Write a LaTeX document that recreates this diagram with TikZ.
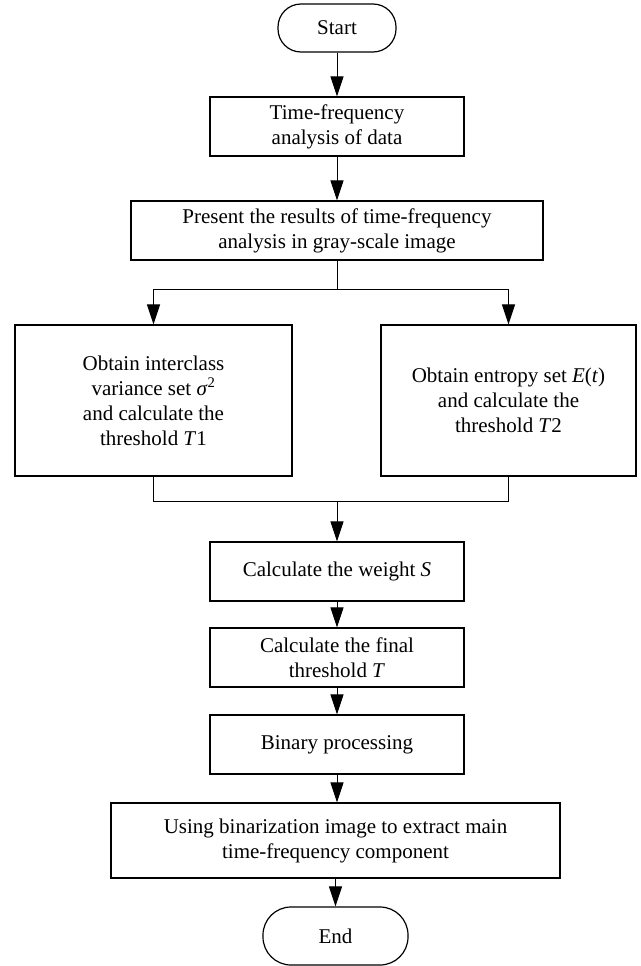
\documentclass[tikz,border=0pt]{standalone}
\usepackage{fontspec}
\setmainfont{Liberation Serif}
\usetikzlibrary{arrows.meta}
\begin{document}
\begin{tikzpicture}[x=1bp,y=-1bp,
  every node/.style={font=\fontsize{21bp}{25bp}\selectfont, align=center, inner sep=0pt},
  procbox/.style={draw=black, line width=1.2bp, rectangle},
  termbox/.style={draw=black, line width=1.2bp, rectangle, rounded corners=23bp},
  conn/.style={draw=black, line width=1bp},
  arr/.style={conn, -{Triangle[length=20bp,width=13bp]}}
]
\useasboundingbox (0,0) rectangle (641,966);
\node[termbox, minimum width=118bp, minimum height=48bp] (start) at (337,28) {Start};
\node[procbox, minimum width=254bp, minimum height=59bp] (b1) at (337,126.5) {Time-frequency\\analysis of data};
\node[procbox, minimum width=412bp, minimum height=59bp] (b2) at (337,230.5) {Present the results of time-frequency\\analysis in gray-scale image};
\node[procbox, minimum width=277bp, minimum height=151bp] (left) at (153.5,400.5) {Obtain interclass\\variance set \textit{σ}\textsuperscript{2}\\and calculate the\\threshold \textit{T}1};
\node[procbox, minimum width=255bp, minimum height=151bp] (right) at (508.5,400.5) {Obtain entropy set \textit{E}(\textit{t})\\and calculate the\\threshold \textit{T}2};
\node[procbox, minimum width=254bp, minimum height=59bp] (s) at (337,571.5) {Calculate the weight \textit{S}};
\node[procbox, minimum width=254bp, minimum height=59bp] (t) at (337,657.5) {Calculate the final\\threshold \textit{T}};
\node[procbox, minimum width=254bp, minimum height=59bp] (bin) at (337,744.5) {Binary processing};
\node[procbox, minimum width=449bp, minimum height=75bp] (use) at (335.5,840.5) {Using binarization image to extract main\\time-frequency component};
\node[termbox, rounded corners=28bp, minimum width=145bp, minimum height=58bp] (end) at (335.5,936) {End};
\coordinate (split) at (337,289);
\coordinate (merge) at (337,501);
\draw[arr] (start) -- (b1);
\draw[arr] (b1) -- (b2);
\draw[conn] (b2.south) -- (split);
\draw[arr] (split) -| (left.north);
\draw[arr] (split) -| (right.north);
\draw[conn] (left.south) |- (merge);
\draw[conn] (right.south) |- (merge);
\draw[arr] (merge) -- (s.north);
\draw[arr] (s) -- (t);
\draw[arr] (t) -- (bin);
\draw[arr] (bin) -- (bin.south |- use.north);
\draw[arr] (use.south -| end.north) -- (end.north);
\end{tikzpicture}
\end{document}
